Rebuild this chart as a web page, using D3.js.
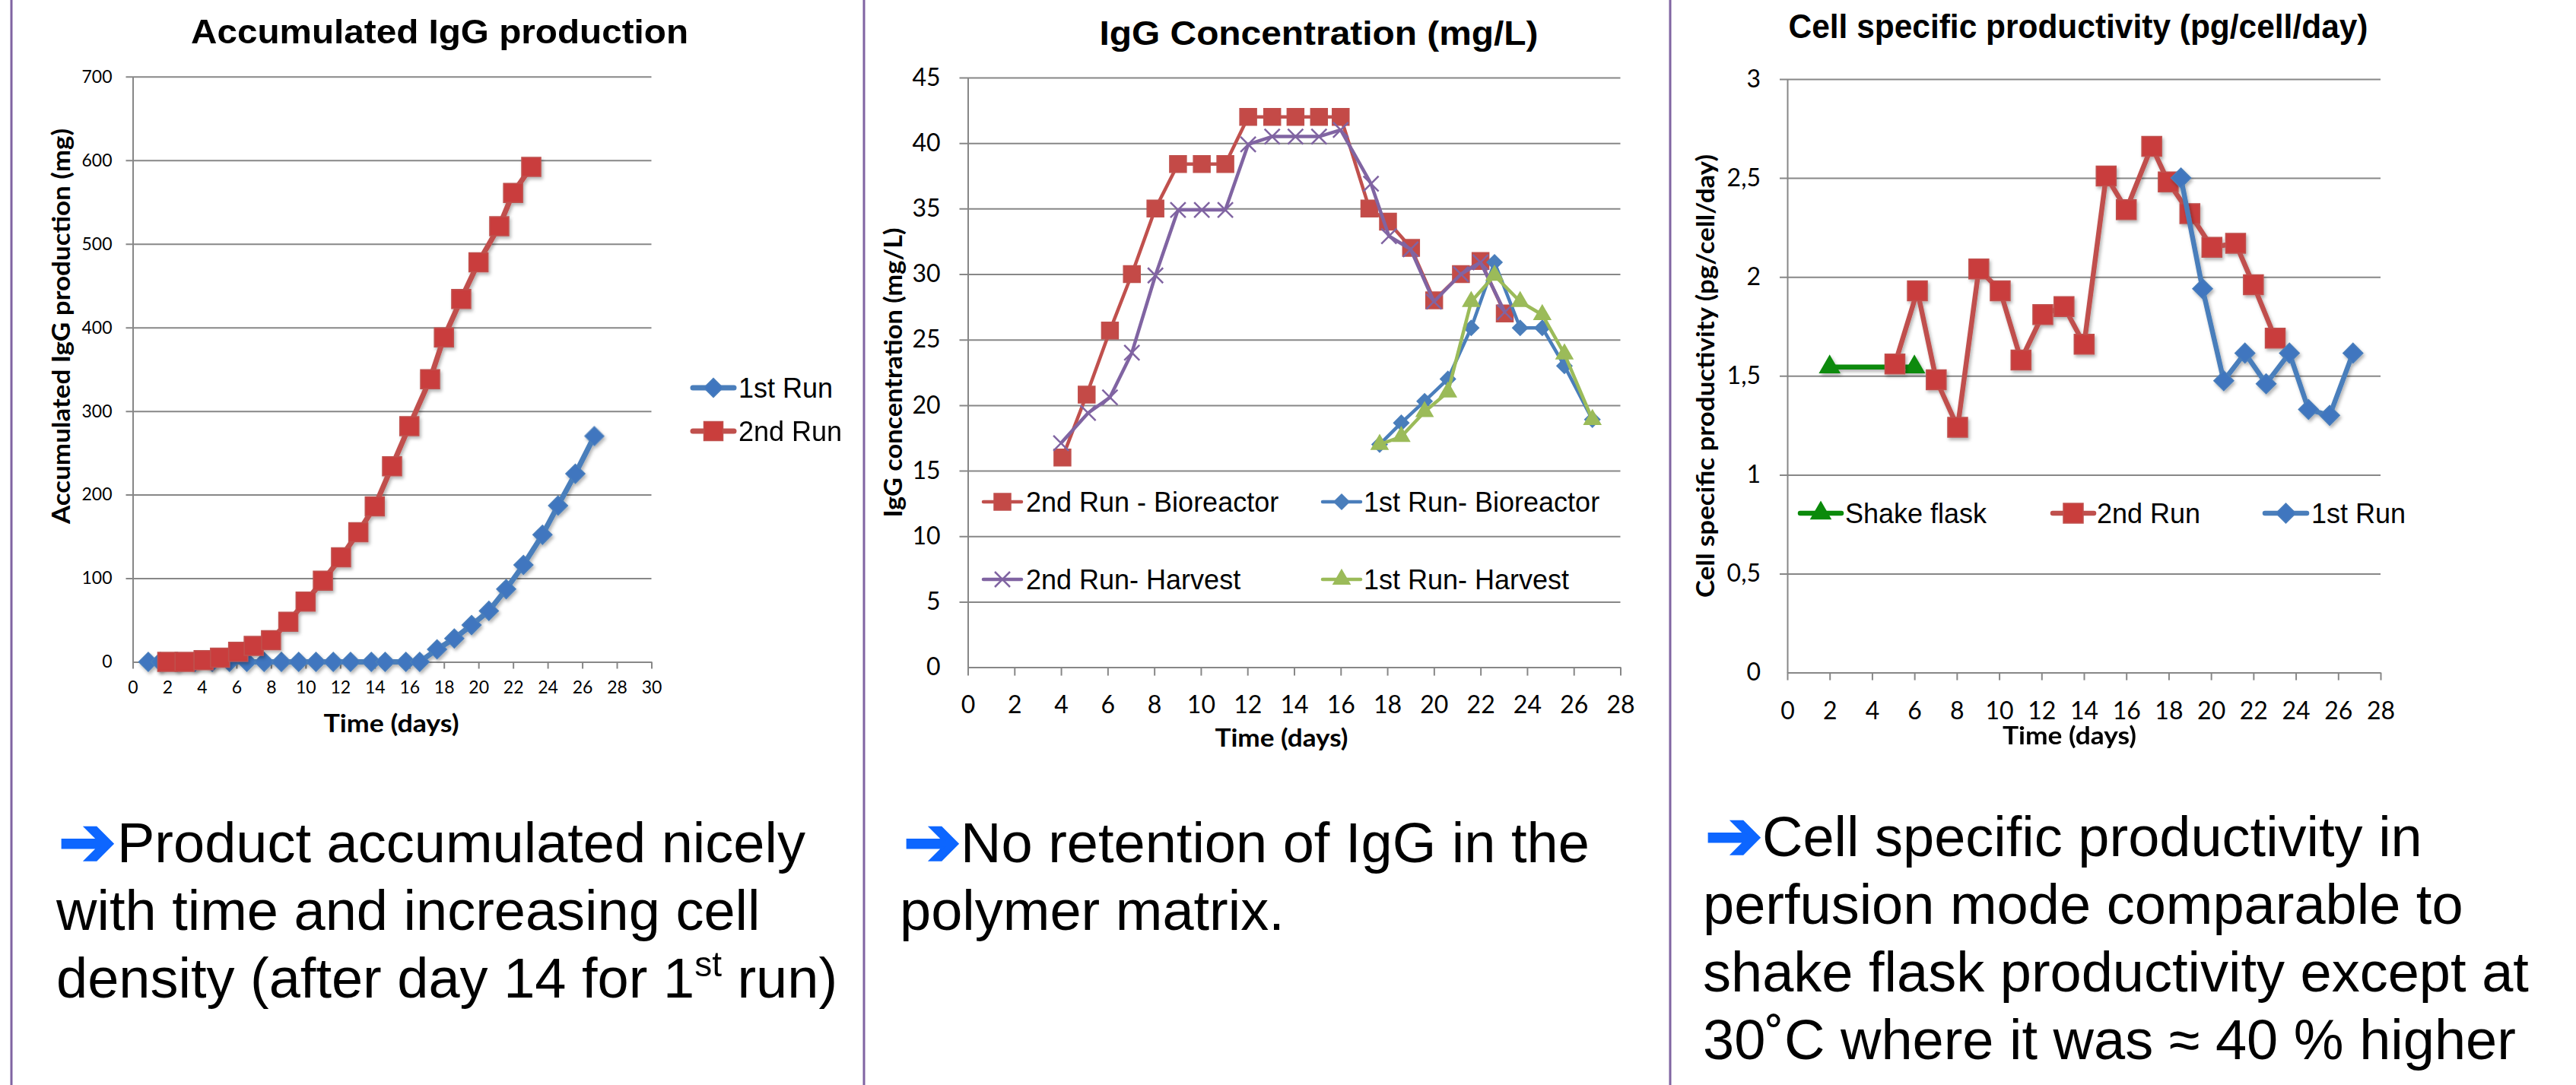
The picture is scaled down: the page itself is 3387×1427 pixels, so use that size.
<!DOCTYPE html>
<html>
<head>
<meta charset="utf-8">
<script src="https://cdn.jsdelivr.net/npm/d3@7"></script>
<style>
body { margin: 0; background: #fff; }
svg { display: block; }
</style>
</head>
<body>
<svg id="slide" width="3387" height="1427"></svg>
<script>
// ---- data ----

// accumulated IgG production (mg)
const accDaysRun1 = [0.9, 1.6, 2.6, 3.6, 4.6, 5.6, 6.6, 7.6, 8.6, 9.6, 10.6, 11.6, 12.6, 13.8, 14.6, 15.8, 16.6, 17.6, 18.6, 19.6, 20.6, 21.6, 22.6, 23.7, 24.6, 25.6, 26.7]
const accRun1 = [0, 0, 0, 0, 0, 0, 0, 0, 0, 0, 0, 0, 0, 0, 0, 0, 0, 15, 28, 44, 61, 87, 116, 152, 187, 225, 270]
const accDaysRun2 = [2, 3, 4.1, 5.05, 6.1, 7, 8, 9, 10, 11, 12.05, 13.05, 14, 15, 16, 17.2, 18, 19, 20, 21.2, 22, 23.05]
const accRun2 = [0, 0, 2, 5, 12, 19, 26, 48, 72, 97, 125, 155, 186, 234, 282, 338, 388, 434, 478, 521, 561, 592]
const accXTicks = d3.range(0, 31, 2)
const accYTicks = [0, 100, 200, 300, 400, 500, 600, 700]
const accYLabels = ['0', '100', '200', '300', '400', '500', '600', '700']

// IgG concentration (mg/L)
const bio2Days = [4.06, 5.1, 6.1, 7.04, 8.05, 9.02, 10.04, 11.05, 12.03, 13.06, 14.06, 15.07, 16, 17.23, 18.03, 19.02, 20.01, 21.16, 22, 23.04]
const bio2Conc = [16, 20.8, 25.7, 30, 35, 38.4, 38.4, 38.4, 42, 42, 42, 42, 42, 35, 34, 32, 28, 30, 31, 27]
const harv2Days = [4, 5.16, 6.1, 7.04, 8.05, 9.02, 10.04, 11.05, 12.03, 13.06, 14.06, 15.07, 16, 17.3, 18.07, 19, 20, 21.16, 22, 23.04]
const harv2Conc = [17.1, 19.4, 20.6, 24, 29.9, 34.9, 34.9, 34.9, 39.9, 40.5, 40.5, 40.5, 41, 36.9, 32.9, 31.9, 27.9, 30, 30.9, 27.1]
const run1ConcDays = [17.67, 18.6, 19.6, 20.6, 21.6, 22.6, 23.7, 24.65, 25.6, 26.8]
const bio1Conc = [17, 18.65, 20.3, 22, 25.9, 30.9, 25.9, 25.9, 23, 18.9]
const harv1Conc = [17, 17.6, 19.5, 21, 27.9, 29.9, 27.9, 26.9, 23.9, 18.9]
const concXTicks = d3.range(0, 29, 2)
const concYTicks = d3.range(0, 46, 5)
const concYLabels = ['0', '5', '10', '15', '20', '25', '30', '35', '40', '45']

// cell specific productivity (pg/cell/day)
const flaskDays = [2, 6]
const flaskProd = [1.544, 1.544]
const prodDaysRun2 = [5.08, 6.14, 7.03, 8.04, 9.04, 10.05, 11.03, 12.06, 13.06, 14.01, 15.05, 16, 17.2, 17.98, 19, 20.04, 21.16, 22, 23.03]
const prodRun2 = [1.56, 1.93, 1.48, 1.24, 2.04, 1.93, 1.58, 1.81, 1.85, 1.66, 2.51, 2.34, 2.66, 2.48, 2.32, 2.15, 2.17, 1.96, 1.69]
const prodDaysRun1 = [18.58, 19.6, 20.6, 21.6, 22.6, 23.7, 24.6, 25.6, 26.7]
const prodRun1 = [2.5, 1.94, 1.475, 1.615, 1.46, 1.615, 1.33, 1.3, 1.615]
const prodXTicks = d3.range(0, 29, 2)
const prodYTicks = [0, 0.5, 1, 1.5, 2, 2.5, 3]
const prodYLabels = ['0', '0,5', '1', '1,5', '2', '2,5', '3']

const zip = (a, b) => a.map((d, i) => [d, b[i]])

// ---- drawing ----
const svg = d3.select('#slide')
const TITLE_FONT = '"Liberation Sans", Arial, sans-serif'
const AXIS_FONT = 'Lato, "Open Sans", sans-serif'
const GRID = '#878787'

const shadow = svg.append('defs').append('filter')
	.attr('id', 'shadow').attr('x', '-50%').attr('y', '-50%').attr('width', '200%').attr('height', '200%')
shadow.append('feDropShadow')
	.attr('dx', 2).attr('dy', 3).attr('stdDeviation', 2)
	.attr('flood-color', '#000').attr('flood-opacity', 0.3)

// thin x marker like excel's
const symbolX = {
	draw(ctx, size) {
		const r = Math.sqrt(size) / 2
		ctx.moveTo(-r, -r); ctx.lineTo(r, r)
		ctx.moveTo(r, -r); ctx.lineTo(-r, r)
	}
}

// draws a marker of the given kind and width at (0,0) inside sel
const addMarker = (sel, s) => {
	let type = d3.symbolSquare, size = s.size * s.size, rot = 0
	if (s.marker === 'diamond') { size = (s.size / Math.SQRT2) ** 2; rot = 45 }
	if (s.marker === 'triangle') { type = d3.symbolTriangle; size = Math.sqrt(3) / 4 * s.size * s.size }
	if (s.marker === 'x') { type = symbolX }
	const p = sel.append('path')
		.attr('d', d3.symbol().type(type).size(size)())
		.attr('transform', `rotate(${rot})`)
	if (s.marker === 'x') {
		p.attr('fill', 'none').attr('stroke', s.color).attr('stroke-width', 2.5)
	} else {
		p.attr('fill', s.fill || s.color).attr('stroke', s.color).attr('stroke-width', 1.5)
	}
}

const drawChart = (cfg) => {
	const g = svg.append('g')
	const x = d3.scaleLinear().domain(cfg.xDomain).range(cfg.xRange)
	const y = d3.scaleLinear().domain(cfg.yDomain).range(cfg.yRange)
	const w = cfg.xRange[1] - cfg.xRange[0]
	const y0 = cfg.yRange[0]

	// gridlines (with the small outside tick on the left)
	const grid = g.append('g')
		.attr('transform', `translate(${cfg.xRange[0] - cfg.tick},0)`)
		.call(d3.axisRight(y).tickValues(cfg.yTicks.filter(d => d > 0)).tickSize(w + cfg.tick).tickFormat(''))
	grid.select('.domain').remove()
	grid.selectAll('line').attr('stroke', GRID).attr('stroke-width', 2)

	// y axis
	const ya = g.append('g')
		.attr('transform', `translate(${cfg.xRange[0]},0)`)
		.call(d3.axisLeft(y).tickValues(cfg.yTicks).tickSize(0).tickSizeOuter(0)
			.tickPadding(cfg.yPad).tickFormat((d, i) => cfg.yLabels[i]))
	ya.select('.domain').attr('stroke', GRID).attr('stroke-width', 2)
	ya.selectAll('text').attr('font-family', AXIS_FONT).attr('font-size', cfg.tickFont).attr('fill', '#000')

	// x axis
	const xa = g.append('g')
		.attr('transform', `translate(0,${y0})`)
		.call(d3.axisBottom(x).tickValues(cfg.xTicks).tickSize(cfg.tick).tickSizeOuter(0))
	xa.select('.domain').attr('stroke', GRID).attr('stroke-width', 2)
	xa.selectAll('line').attr('stroke', GRID).attr('stroke-width', 2)
	xa.selectAll('text').attr('font-family', AXIS_FONT).attr('font-size', cfg.tickFont).attr('fill', '#000')
		.attr('y', cfg.xLabelY).attr('dy', '0.36em')

	// series
	const line = d3.line().x(d => x(d[0])).y(d => y(d[1]))
	cfg.series.forEach(s => {
		const sg = g.append('g').attr('filter', cfg.shadow ? 'url(#shadow)' : null)
		sg.append('path')
			.datum(zip(s.x, s.y))
			.attr('d', line)
			.attr('fill', 'none')
			.attr('stroke', s.color)
			.attr('stroke-width', cfg.lineWidth)
			.attr('stroke-linejoin', 'round')
		sg.selectAll('g.pt')
			.data(zip(s.x, s.y))
			.join('g')
			.attr('class', 'pt')
			.attr('transform', d => `translate(${x(d[0])},${y(d[1])})`)
			.each(function () { addMarker(d3.select(this), s) })
	})

	// legend
	cfg.legend.forEach(l => {
		const s = cfg.series[l.i]
		const lg = g.append('g')
		lg.append('line')
			.attr('x1', l.x1).attr('x2', l.x2).attr('y1', l.y).attr('y2', l.y)
			.attr('stroke', s.color).attr('stroke-width', cfg.lineWidth).attr('stroke-linecap', 'round')
		addMarker(lg.append('g').attr('transform', `translate(${(l.x1 + l.x2) / 2},${l.y})`), s)
		lg.append('text')
			.attr('x', l.tx).attr('y', l.y).attr('dy', '0.36em')
			.attr('font-family', TITLE_FONT).attr('font-size', cfg.legendFont)
			.text(s.name)
	})

	// titles
	g.append('text')
		.attr('x', cfg.title.x).attr('y', cfg.title.y)
		.attr('text-anchor', 'middle')
		.attr('font-family', TITLE_FONT).attr('font-weight', 'bold').attr('font-size', 44)
		.attr('textLength', cfg.title.len).attr('lengthAdjust', 'spacingAndGlyphs')
		.text(cfg.title.text)
	g.append('text')
		.attr('transform', `translate(${cfg.yTitle.x},${cfg.yTitle.y}) rotate(-90)`)
		.attr('text-anchor', 'middle').attr('dy', '0.36em')
		.attr('font-family', AXIS_FONT).attr('font-weight', 'bold').attr('font-size', 33)
		.attr('textLength', cfg.yTitle.len).attr('lengthAdjust', 'spacingAndGlyphs')
		.text(cfg.yTitle.text)
	g.append('text')
		.attr('x', cfg.xTitle.x).attr('y', cfg.xTitle.y)
		.attr('text-anchor', 'middle')
		.attr('font-family', AXIS_FONT).attr('font-weight', 'bold').attr('font-size', 33)
		.attr('textLength', cfg.xTitle.len).attr('lengthAdjust', 'spacingAndGlyphs')
		.text('Time (days)')
}

const RED = '#c0504d', BLUE = '#4a7ebb'

drawChart({
	xDomain: [0, 30], xRange: [174.5, 856.5],
	yDomain: [0, 700], yRange: [870.5, 100.8],
	xTicks: accXTicks, yTicks: accYTicks, yLabels: accYLabels,
	tick: 9, yPad: 27, xLabelY: 33.5, tickFont: 23,
	lineWidth: 7, shadow: true, legendFont: 36,
	series: [
		{name: '1st Run', x: accDaysRun1, y: accRun1, color: BLUE, fill: '#3f76bf', marker: 'diamond', size: 25},
		{name: '2nd Run', x: accDaysRun2, y: accRun2, color: '#c0504d', fill: '#c93e3c', marker: 'square', size: 25}
	],
	legend: [
		{i: 0, x1: 911, x2: 965, tx: 971, y: 510},
		{i: 1, x1: 911, x2: 965, tx: 971, y: 567}
	],
	title: {text: 'Accumulated IgG production', x: 578, y: 57, len: 654},
	yTitle: {text: 'Accumulated IgG production (mg)', x: 80, y: 429, len: 520},
	xTitle: {x: 514.5, y: 963, len: 178}
})

drawChart({
	xDomain: [0, 28], xRange: [1272.5, 2130.5],
	yDomain: [0, 45], yRange: [877.6, 102],
	xTicks: concXTicks, yTicks: concYTicks, yLabels: concYLabels,
	tick: 11, yPad: 36, xLabelY: 48.5, tickFont: 32,
	lineWidth: 4.5, shadow: false, legendFont: 36,
	series: [
		{name: '2nd Run - Bioreactor', x: bio2Days, y: bio2Conc, color: RED, fill: '#c44a47', marker: 'square', size: 22},
		{name: '1st Run- Bioreactor', x: run1ConcDays, y: bio1Conc, color: BLUE, marker: 'diamond', size: 20},
		{name: '2nd Run- Harvest', x: harv2Days, y: harv2Conc, color: '#8064a2', marker: 'x', size: 20},
		{name: '1st Run- Harvest', x: run1ConcDays, y: harv1Conc, color: '#9bbb59', marker: 'triangle', size: 22}
	],
	legend: [
		{i: 0, x1: 1293, x2: 1343, tx: 1349, y: 660},
		{i: 1, x1: 1739, x2: 1789, tx: 1793, y: 660},
		{i: 2, x1: 1293, x2: 1343, tx: 1349, y: 762},
		{i: 3, x1: 1739, x2: 1789, tx: 1793, y: 762}
	],
	title: {text: 'IgG Concentration (mg/L)', x: 1734, y: 59, len: 577},
	yTitle: {text: 'IgG concentration (mg/L)', x: 1174, y: 490, len: 381},
	xTitle: {x: 1685, y: 982, len: 175}
})

drawChart({
	xDomain: [0, 28], xRange: [2350, 3130],
	yDomain: [0, 3], yRange: [884.6, 104],
	xTicks: prodXTicks, yTicks: prodYTicks, yLabels: prodYLabels,
	tick: 10, yPad: 35, xLabelY: 49.5, tickFont: 32,
	lineWidth: 6.5, shadow: true, legendFont: 36,
	series: [
		{name: 'Shake flask', x: flaskDays, y: flaskProd, color: '#0b8a0b', marker: 'triangle', size: 26},
		{name: '2nd Run', x: prodDaysRun2, y: prodRun2, color: RED, fill: '#c93e3c', marker: 'square', size: 26},
		{name: '1st Run', x: prodDaysRun1, y: prodRun1, color: BLUE, fill: '#3f76bf', marker: 'diamond', size: 26}
	],
	legend: [
		{i: 0, x1: 2367, x2: 2421, tx: 2426, y: 675},
		{i: 1, x1: 2699, x2: 2753, tx: 2757, y: 675},
		{i: 2, x1: 2978, x2: 3033, tx: 3039, y: 675}
	],
	title: {text: 'Cell specific productivity (pg/cell/day)', x: 2732.5, y: 50, len: 762},
	yTitle: {text: 'Cell specific productivity (pg/cell/day)', x: 2242, y: 494.5, len: 583},
	xTitle: {x: 2721, y: 979, len: 176}
})

// panel dividers
svg.append('g').selectAll('line')
	.data([15, 1136, 2196])
	.join('line')
	.attr('x1', d => d).attr('x2', d => d)
	.attr('y1', 0).attr('y2', 1427)
	.attr('stroke', '#8064a2').attr('stroke-width', 3)

// comments under the charts
const notes = [
	{arrowX: 77, lines: [
		{x: 154, y: 1134, parts: [['Product accumulated nicely']]},
		{x: 74, y: 1223, parts: [['with time and increasing cell']]},
		{x: 74, y: 1312, parts: [['density (after day 14 for 1'], ['st', 'sup'], [' run)']]}
	]},
	{arrowX: 1188, lines: [
		{x: 1263, y: 1134, parts: [['No retention of IgG in the']]},
		{x: 1183, y: 1223, parts: [['polymer matrix.']]}
	]},
	{arrowX: 2242, lines: [
		{x: 2317, y: 1126, parts: [['Cell specific productivity in']]},
		{x: 2239, y: 1215, parts: [['perfusion mode comparable to']]},
		{x: 2239, y: 1304, parts: [['shake flask productivity except at']]},
		{x: 2239, y: 1393, parts: [['30˚C where it was ≈ 40 % higher']]}
	]}
]

notes.forEach(n => {
	svg.append('text')
		.attr('x', n.arrowX).attr('y', n.lines[0].y + 4)
		.attr('font-family', '"DejaVu Sans", sans-serif').attr('font-size', 90).attr('font-weight', 'bold')
		.attr('fill', '#0d66ff').attr('stroke', '#0d66ff').attr('stroke-width', 3)
		.text('➔')
	n.lines.forEach(l => {
		const t = svg.append('text')
			.attr('x', l.x).attr('y', l.y)
			.attr('font-family', TITLE_FONT).attr('font-size', 74)
		l.parts.forEach(p => {
			const ts = t.append('tspan').text(p[0])
			if (p[1] === 'sup') ts.attr('font-size', 46).attr('dy', -28)
			else if (t.selectAll('tspan').size() > 1) ts.attr('dy', 28)
		})
	})
})
</script>
</body>
</html>
